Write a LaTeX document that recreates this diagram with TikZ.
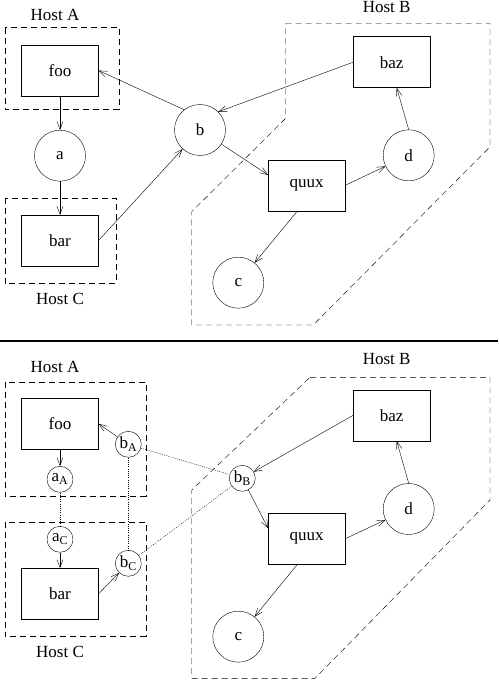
\documentclass[tikz,border=0pt]{standalone}
\usepackage{fontspec}
\setmainfont{Liberation Serif}
\usetikzlibrary{arrows.meta}

\begin{document}
\begin{tikzpicture}[x=1pt,y=-1pt,
  every node/.style={font=\fontsize{17}{20}\selectfont},
  proc/.style={draw,rectangle,minimum width=76.7pt,minimum height=51pt,inner sep=0pt},
  obj/.style={draw,circle,minimum size=51pt,inner sep=0pt},
  proxy/.style={draw,circle,minimum size=26pt,inner sep=0pt},
  host/.style={draw,dash pattern=on 6pt off 4pt},
  link/.style={-{Straight Barb[length=8pt,width=6pt]}},
  tie/.style={dash pattern=on 1pt off 1.2pt}]
\useasboundingbox (0,0) rectangle (498,682);
\node (hostA) at (55,15) {Host A};
\node (hostC) at (60,299) {Host C};
\node (hostB) at (386.7,7) {Host B};
\draw[host] (4.7,27.7) rectangle (119.3,109);
\draw[host] (4.7,197.7) rectangle (115.7,283.3);
\draw[host] (285.7,23.3) -- (490,23.3) -- (490,146.7) -- (313.3,325) -- (191.7,325) -- (191.7,211.7) -- (285.7,118.3) -- cycle;
\node[proc] (foo) at (60,70.5) {foo};
\node[obj] (a) at (60,155.7) {a};
\node[proc] (bar) at (60,240.5) {bar};
\node[obj] (b) at (200,130) {b};
\node[proc] (baz) at (391.7,62.2) {baz};
\node[obj] (d) at (408.7,155.3) {d};
\node[proc] (quux) at (306.7,185.3) {quux};
\node[obj] (c) at (238.3,282.7) {c};
\draw[link] (foo) -- (a);
\draw[link] (a) -- (bar);
\draw[link] (bar.east) -- (b);
\draw[link] (b.128) -- (foo.east);
\draw[link] (baz.west) -- (b.45);
\draw[link] (b) -- (quux.165);
\draw[link] (quux.east) -- (d);
\draw[link] (quux.250) -- (c);
\draw[link] (d.north) -- ([xshift=5pt]baz.south);
\draw[line width=1.6pt] (0,340.7) -- (498,340.7);
\node (hostA2) at (55,367.3) {Host A};
\node (hostC2) at (60,652.3) {Host C};
\node (hostB2) at (386.7,359.3) {Host B};
\draw[host] (4.7,381.7) rectangle (145.7,496);
\draw[host] (4.7,521.7) rectangle (145.7,636);
\draw[host] (310,377.3) -- (490,377.3) -- (490,500) -- (315,678.3) -- (191.7,678.3) -- (191.7,490) -- cycle;
\node[proc] (foo2) at (60,423.8) {foo};
\node[proxy] (aA) at (60,479.3) {a\textsubscript{A}};
\node[proxy] (aC) at (60,539.3) {a\textsubscript{C}};
\node[proc] (bar2) at (60,593.8) {bar};
\node[proxy] (bA) at (128.3,444.3) {b\textsubscript{A}};
\node[proxy] (bC) at (128.3,563.3) {b\textsubscript{C}};
\node[proxy] (bB) at (242.3,478.3) {b\textsubscript{B}};
\node[proc] (baz2) at (391.7,415.3) {baz};
\node[obj] (d2) at (408.7,509) {d};
\node[proc] (quux2) at (306.7,538.7) {quux};
\node[obj] (c2) at (238.3,636.7) {c};
\draw[link] (foo2) -- (aA);
\draw[link] (aC) -- (bar2);
\draw[link] (bar2.east) -- (bC);
\draw[link] (bA) -- (foo2.east);
\draw[link] (baz2.west) -- (bB);
\draw[link] (bB) -- (quux2.165);
\draw[link] (quux2.east) -- (d2);
\draw[link] (quux2.250) -- (c2);
\draw[link] (d2.north) -- ([xshift=5pt]baz2.south);
\draw[tie] (aA) -- (aC);
\draw[tie] (bA) -- (bC);
\draw[tie] (bA) -- (bB);
\draw[tie] (bC) -- (bB);
\end{tikzpicture}
\end{document}
